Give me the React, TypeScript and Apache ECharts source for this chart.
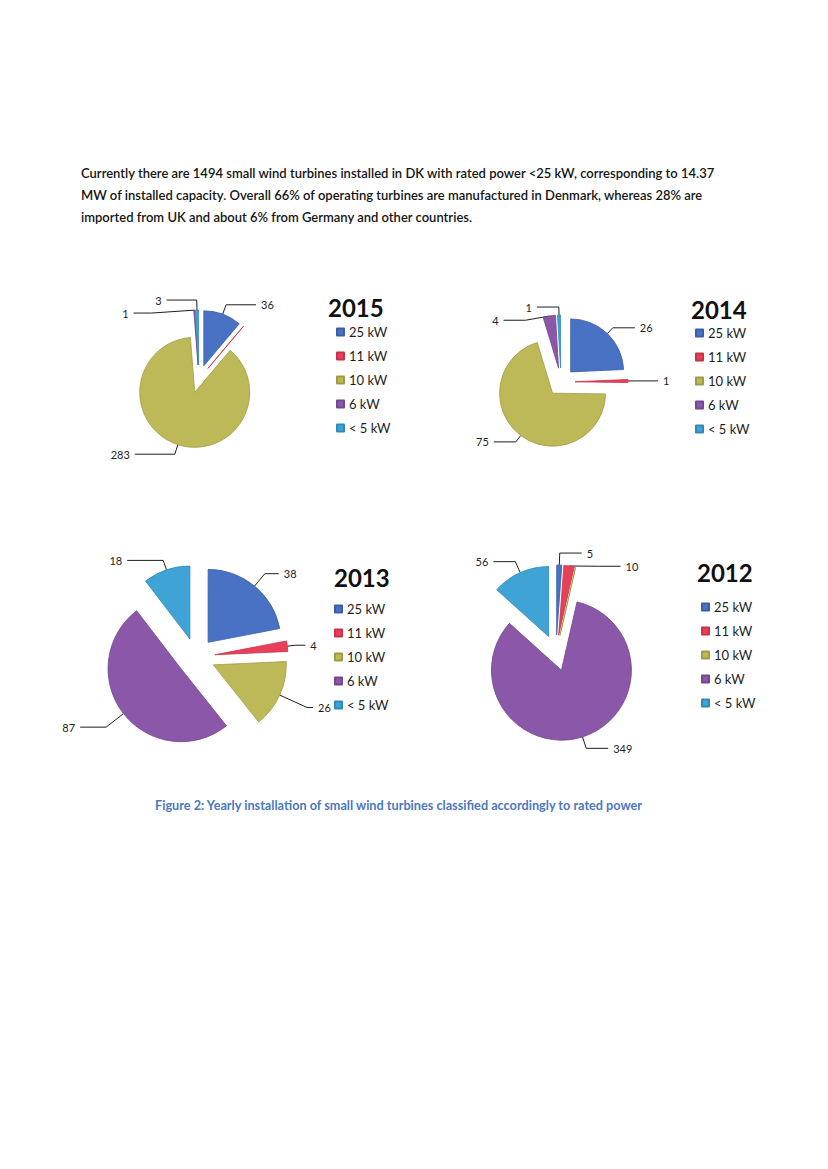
import React, { useEffect, useRef } from "react";
import * as echarts from "echarts";

const categories = ["25 kW", "11 kW", "10 kW", "6 kW", "< 5 kW"];
const years = ["2015", "2014", "2013", "2012"];
const values2015 = [36, 0, 283, 1, 3];
const values2014 = [26, 1, 75, 4, 1];
const values2013 = [38, 4, 26, 87, 18];
const values2012 = [5, 10, 0, 349, 56];
const colors = ["#4A72C4", "#E8405A", "#BDB858", "#8B57A8", "#3FA3D5"];
const borders = ["#3A5FA8", "#C9324A", "#A09C45", "#74478F", "#3189B8"];
const paragraphLines = [
  "Currently there are 1494 small wind turbines installed in DK with rated power <25 kW, corresponding to 14.37",
  "MW of installed capacity. Overall 66% of operating turbines are manufactured in Denmark, whereas 28% are",
  "imported from UK and about 6% from Germany and other countries.",
];
const caption =
  "Figure 2: Yearly installation of small wind turbines classified accordingly to rated power";

const FONT = "Lato";

// per-chart layout and per-slice leader-line lengths [length, length2]
const layout = [
  {
    center: [199, 379], r: 55, off: 14, title: [328, 295], legend: [336, 325],
    lines: [[10, 30], [8, 20], [10, 40], [10, 30], [10, 30]],
  },
  {
    center: [561, 382], r: 53, off: 14, title: [691, 297], legend: [695, 326],
    lines: [[8, 22], [8, 22], [8, 22], [8, 22], [8, 22]],
  },
  {
    center: [196, 657], r: 73, off: 19, title: [334, 565], legend: [334, 602],
    lines: [[16, 14], [8, 10], [30, 6], [22, 26], [10, 36]],
  },
  {
    center: [556, 653], r: 70, off: 18, title: [697, 560], legend: [701, 600],
    lines: [[12, 22], [12, 22], [12, 22], [12, 22], [12, 22]],
  },
];

export default function App() {
  const ref = useRef<HTMLDivElement>(null);
  useEffect(() => {
    if (!ref.current) return;
    const chart = echarts.init(ref.current, null, { renderer: "svg" });
    const allValues = [values2015, values2014, values2013, values2012];

    const series = allValues.map((vals, i) => ({
      type: "pie",
      name: years[i],
      center: layout[i].center,
      radius: layout[i].r,
      startAngle: 90,
      clockwise: true,
      selectedMode: "multiple",
      selectedOffset: layout[i].off,
      avoidLabelOverlap: true,
      emphasis: { disabled: true },
      label: {
        show: true,
        position: "outside",
        formatter: "{c}",
        fontFamily: FONT,
        fontSize: 11,
        color: "#1e1e1e",
      },
      labelLine: {
        show: true,
        lineStyle: { color: "#1e1e1e", width: 1 },
      },
      data: categories.map((name, k) => ({
        name,
        value: vals[k],
        selected: true,
        itemStyle: { color: colors[k], borderColor: borders[k], borderWidth: 0.8 },
        label: { show: vals[k] > 0 },
        labelLine: {
          show: vals[k] > 0,
          length: layout[i].lines[k][0],
          length2: layout[i].lines[k][1],
        },
      })),
    }));

    const legends = layout.map((l) => ({
      orient: "vertical",
      left: l.legend[0],
      top: l.legend[1],
      padding: 0,
      itemWidth: 7,
      itemHeight: 7,
      itemGap: 10,
      icon: "rect",
      selectedMode: false,
      data: categories,
      textStyle: { fontFamily: FONT, fontSize: 13, color: "#1e1e1e", lineHeight: 14 },
    }));

    const titles = layout.map((l, i) => ({
      text: years[i],
      left: l.title[0],
      top: l.title[1],
      padding: 0,
      textStyle: { fontFamily: FONT, fontSize: 24, fontWeight: "bold", color: "#111" },
    }));

    const graphics: any[] = paragraphLines.map((t, i) => ({
      type: "text",
      left: 81,
      top: 166 + i * 22,
      style: {
        text: t,
        fontFamily: FONT,
        fontSize: 13,
        fontWeight: 600,
        fill: "#151515",
      },
    }));
    graphics.push({
      type: "text",
      left: 155,
      top: 798,
      style: {
        text: caption,
        fontFamily: FONT,
        fontSize: 12.7,
        fontWeight: "bold",
        fill: "#4B78C0",
      },
    });

    chart.setOption({
      animation: false,
      backgroundColor: "#ffffff",
      color: colors,
      title: titles,
      legend: legends,
      graphic: graphics,
      series,
    });
    return () => chart.dispose();
  }, []);
  return (
    <div
      ref={ref}
      style={{ position: "absolute", left: 0, top: 0, width: 828, height: 1169 }}
    />
  );
}
